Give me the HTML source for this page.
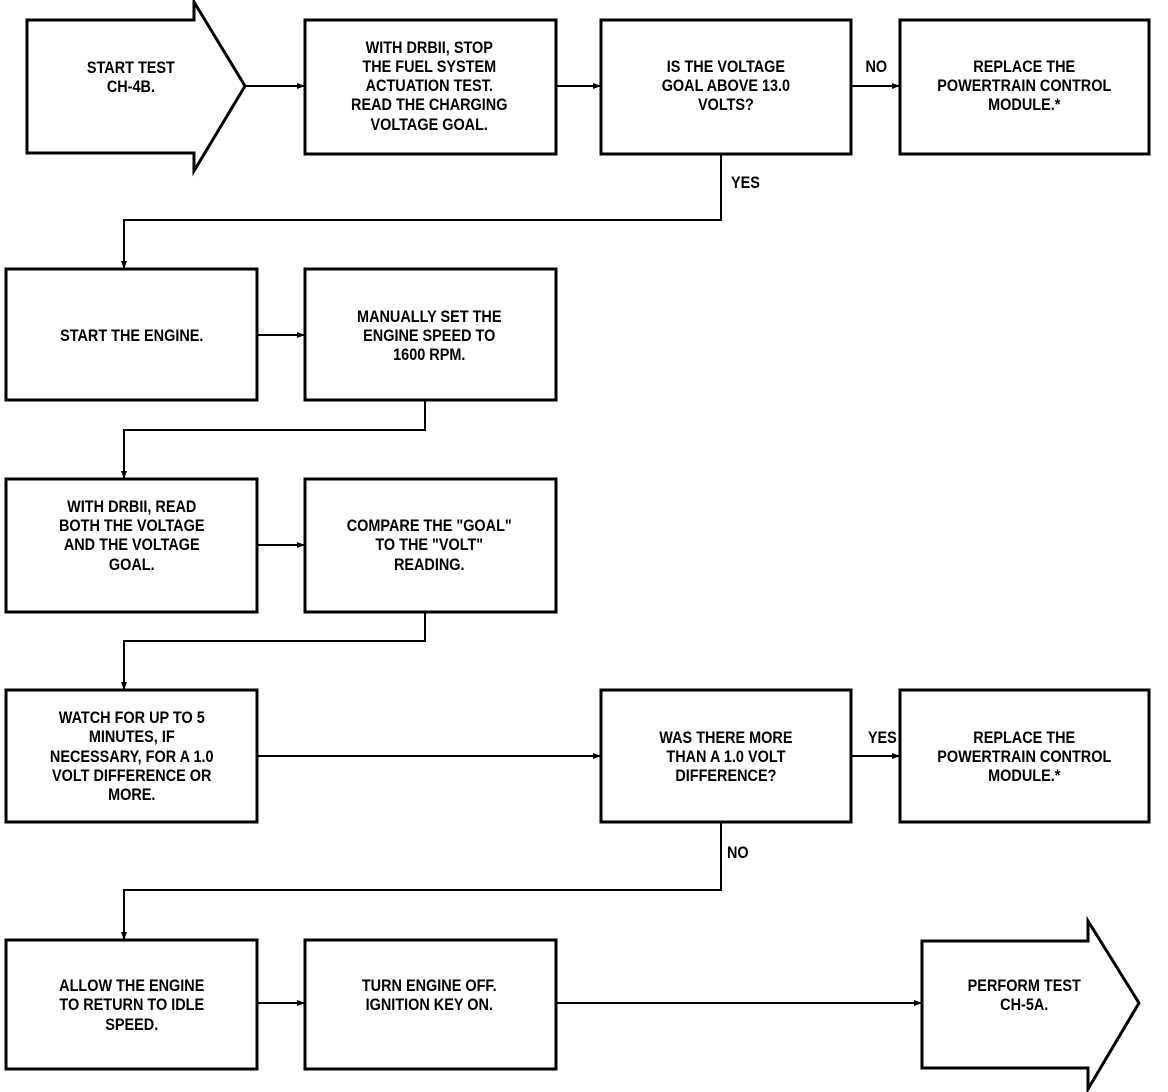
<!DOCTYPE html>
<html><head><style>
html,body{margin:0;padding:0;background:#fff}
svg{display:block}
text{font-family:"Liberation Sans",sans-serif;font-weight:bold;font-size:17px;fill:#000;text-anchor:middle}
</style></head><body>
<svg width="1168" height="1092" viewBox="0 0 1168 1092" xmlns="http://www.w3.org/2000/svg">
<defs><marker id="a" markerWidth="8" markerHeight="8" refX="7" refY="4" orient="auto" markerUnits="userSpaceOnUse"><path d="M0,1 L8,4 L0,7z" fill="#000"/></marker></defs>
<g fill="none" stroke="#000" stroke-width="3">
<path d="M27,20 H194 V2 L245,86 L194,171 V153 H27 Z"/>
<rect x="305" y="20" width="251" height="134"/>
<rect x="601" y="20" width="250" height="134"/>
<rect x="900" y="20" width="249" height="134"/>
<rect x="6" y="269" width="251" height="131"/>
<rect x="305" y="269" width="251" height="131"/>
<rect x="6" y="479" width="251" height="133"/>
<rect x="305" y="479" width="251" height="133"/>
<rect x="6" y="690" width="251" height="132"/>
<rect x="601" y="690" width="250" height="132"/>
<rect x="900" y="690" width="249" height="132"/>
<rect x="6" y="940" width="251" height="129"/>
<rect x="305" y="940" width="251" height="129"/>
<path d="M922,941 H1088 V921 L1139,1003 L1088,1089 V1068 H922 Z"/>
</g>
<g fill="none" stroke="#000" stroke-width="2" marker-end="url(#a)">
<path d="M245,86 H304"/>
<path d="M556,86 H600"/>
<path d="M851,86 H899"/>
<path d="M721,154 V220 H124 V268"/>
<path d="M257,335 H304"/>
<path d="M425,400 V430 H124 V478"/>
<path d="M257,545 H304"/>
<path d="M425,612 V641 H124 V689"/>
<path d="M257,756 H600"/>
<path d="M851,756 H899"/>
<path d="M721,822 V890 H124 V939"/>
<path d="M257,1003 H304"/>
<path d="M556,1003 H921"/>
</g>
<g transform="scale(0.85,1)">
<text x="154" y="73">START TEST</text><text x="154" y="92">CH-4B.</text>
<text x="505" y="53">WITH DRBII, STOP</text><text x="505" y="72">THE FUEL SYSTEM</text><text x="505" y="91">ACTUATION TEST.</text><text x="505" y="110">READ THE CHARGING</text><text x="505" y="130">VOLTAGE GOAL.</text>
<text x="854" y="72">IS THE VOLTAGE</text><text x="854" y="91">GOAL ABOVE 13.0</text><text x="854" y="110">VOLTS?</text>
<text x="1205" y="72">REPLACE THE</text><text x="1205" y="91">POWERTRAIN CONTROL</text><text x="1205" y="110">MODULE.*</text>
<text x="1031" y="72">NO</text>
<text x="877" y="188">YES</text>
<text x="155" y="341">START THE ENGINE.</text>
<text x="505" y="322">MANUALLY SET THE</text><text x="505" y="341">ENGINE SPEED TO</text><text x="505" y="360">1600 RPM.</text>
<text x="155" y="512">WITH DRBII, READ</text><text x="155" y="531">BOTH THE VOLTAGE</text><text x="155" y="550">AND THE VOLTAGE</text><text x="155" y="570">GOAL.</text>
<text x="505" y="531">COMPARE THE "GOAL"</text><text x="505" y="550">TO THE "VOLT"</text><text x="505" y="570">READING.</text>
<text x="155" y="723">WATCH FOR UP TO 5</text><text x="155" y="742">MINUTES, IF</text><text x="155" y="762">NECESSARY, FOR A 1.0</text><text x="155" y="781">VOLT DIFFERENCE OR</text><text x="155" y="800">MORE.</text>
<text x="854" y="743">WAS THERE MORE</text><text x="854" y="762">THAN A 1.0 VOLT</text><text x="854" y="781">DIFFERENCE?</text>
<text x="1205" y="743">REPLACE THE</text><text x="1205" y="762">POWERTRAIN CONTROL</text><text x="1205" y="781">MODULE.*</text>
<text x="1038" y="743">YES</text>
<text x="868" y="858">NO</text>
<text x="155" y="991">ALLOW THE ENGINE</text><text x="155" y="1010">TO RETURN TO IDLE</text><text x="155" y="1030">SPEED.</text>
<text x="505" y="991">TURN ENGINE OFF.</text><text x="505" y="1010">IGNITION KEY ON.</text>
<text x="1205" y="991">PERFORM TEST</text><text x="1205" y="1010">CH-5A.</text>
</g>
</svg>
</body></html>
